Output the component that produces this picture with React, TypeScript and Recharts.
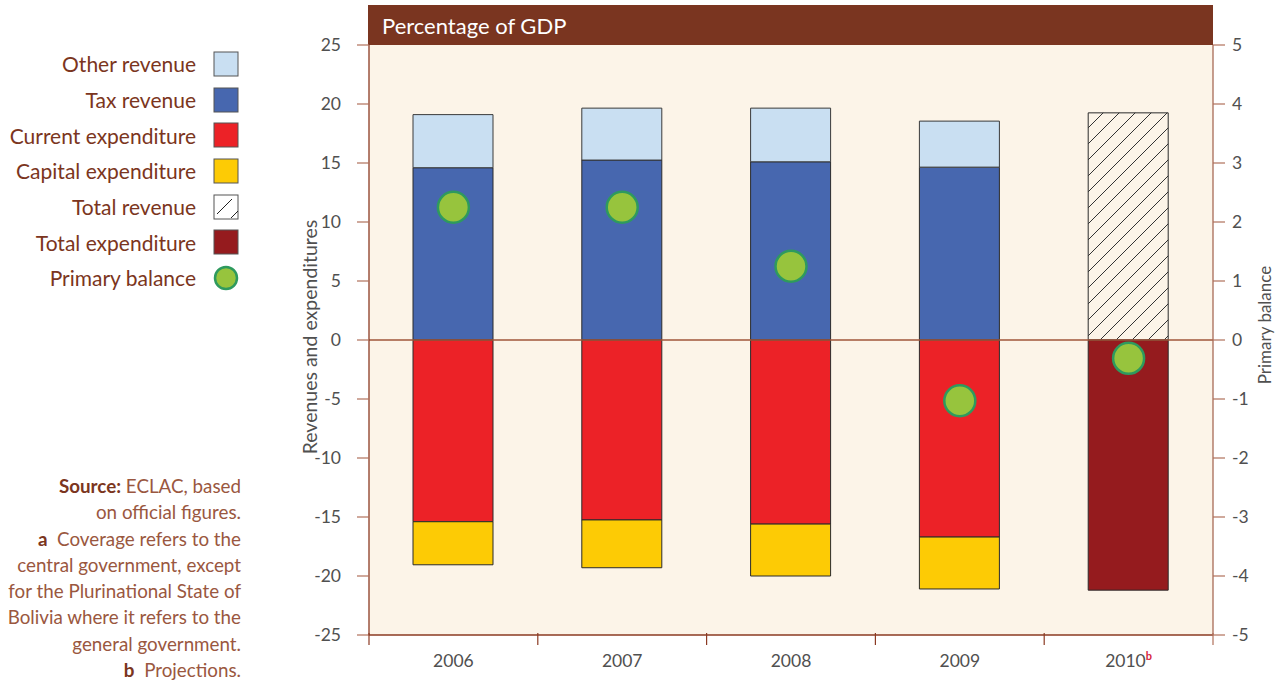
import {
  ComposedChart,
  Bar,
  Scatter,
  XAxis,
  YAxis,
  CartesianGrid,
  ReferenceLine,
} from 'recharts'

const years = ['2006', '2007', '2008', '2009', '2010']
const projected = [false, false, false, false, true]
const taxRevenue = [14.6, 15.25, 15.1, 14.65, null]
const otherRevenue = [4.5, 4.4, 4.55, 3.9, null]
const totalRevenue = [null, null, null, null, 19.25]
const currentExpenditure = [-15.4, -15.25, -15.6, -16.7, null]
const capitalExpenditure = [-3.65, -4.05, -4.4, -4.4, null]
const totalExpenditure = [null, null, null, null, -21.2]
const primaryBalance = [2.25, 2.25, 1.25, -1.03, -0.31]

const leftTicks = [25, 20, 15, 10, 5, 0, -5, -10, -15, -20, -25]
const rightTicks = [5, 4, 3, 2, 1, 0, -1, -2, -3, -4, -5]

const legendItems = [
  { name: 'Other revenue', kind: 'box', color: '#C9DFF2' },
  { name: 'Tax revenue', kind: 'box', color: '#4767AF' },
  { name: 'Current expenditure', kind: 'box', color: '#EC2227' },
  { name: 'Capital expenditure', kind: 'box', color: '#FDCB05' },
  { name: 'Total revenue', kind: 'hatch', color: '#FFFFFF' },
  { name: 'Total expenditure', kind: 'box', color: '#951B1E' },
  { name: 'Primary balance', kind: 'dot', color: '#97C43D' },
]

const data = years.map((year, i) => ({
  year,
  projected: projected[i],
  tax: taxRevenue[i],
  other: otherRevenue[i],
  totalRev: totalRevenue[i],
  current: currentExpenditure[i],
  capital: capitalExpenditure[i],
  totalExp: totalExpenditure[i],
  balance: primaryBalance[i],
}))

const BROWN = '#8B3A22'
const TICK_BROWN = '#B0705A'
const TEXT_BROWN = '#7B3520'
const GRAY = '#505050'
const FONT = 'Lato, "Open Sans", sans-serif'

const PLOT_LEFT = 369
const PLOT_RIGHT = 1213
const BAND = (PLOT_RIGHT - PLOT_LEFT) / years.length

function YearTick(props: any) {
  const { x, y, payload, index } = props
  const row = data[index]
  const left = x - BAND / 2
  const right = x + BAND / 2
  return (
    <g>
      <line x1={left} x2={left} y1={y - 2} y2={y + 10} stroke={BROWN} strokeWidth={1.2} />
      {index === years.length - 1 && (
        <line x1={right} x2={right} y1={y - 2} y2={y + 10} stroke={TICK_BROWN} strokeWidth={1.2} />
      )}
      <text x={x} y={y + 32} textAnchor="middle" fill={GRAY} fontSize={17.5} fontFamily={FONT}>
        {payload.value}
        {row && row.projected && (
          <tspan dy={-7} fontSize={11} fontWeight="bold" fill="#D7263D">
            b
          </tspan>
        )}
      </text>
    </g>
  )
}

function RightAxisLabel(props: any) {
  const vb = props.viewBox || {}
  const cx = vb.x + vb.width - 19
  const cy = vb.y + vb.height / 2 - 15
  return (
    <text
      x={cx}
      y={cy}
      transform={`rotate(-90, ${cx}, ${cy})`}
      textAnchor="middle"
      dominantBaseline="central"
      fill={GRAY}
      fontSize={17}
      fontFamily={FONT}
    >
      Primary balance
    </text>
  )
}

function LeftAxisLabel(props: any) {
  const vb = props.viewBox || {}
  const cx = vb.x + 10
  const cy = vb.y + vb.height / 2 - 3
  return (
    <text
      x={cx}
      y={cy}
      transform={`rotate(-90, ${cx}, ${cy})`}
      textAnchor="middle"
      dominantBaseline="central"
      fill={GRAY}
      fontSize={19.5}
      fontFamily={FONT}
    >
      Revenues and expenditures
    </text>
  )
}

function BalanceDot(props: any) {
  const { cx, cy } = props
  if (cx == null || cy == null) return null
  return <circle cx={cx} cy={cy} r={15.5} fill="#97C43D" stroke="#2E9A5E" strokeWidth={2.5} />
}

function Swatch({ kind, color }: { kind: string; color: string }) {
  if (kind === 'dot') {
    return (
      <svg width={26} height={26}>
        <circle cx={13} cy={13} r={11} fill={color} stroke="#2E9A5E" strokeWidth={2.5} />
      </svg>
    )
  }
  return (
    <svg width={26} height={26}>
      <rect x={1} y={1} width={24} height={24} fill={color} stroke="#555" strokeWidth={1} />
      {kind === 'hatch' && (
        <>
          <line x1={4} y1={20} x2={19} y2={5} stroke="#222" strokeWidth={1} />
          <line x1={18} y1={24} x2={25} y2={17} stroke="#222" strokeWidth={1} />
        </>
      )}
    </svg>
  )
}

export default function App() {
  return (
    <div
      style={{
        position: 'absolute',
        left: 0,
        top: 0,
        width: 1284,
        height: 681,
        background: '#FFFFFF',
        fontFamily: FONT,
        overflow: 'hidden',
      }}
    >
      {/* legend */}
      <div style={{ position: 'absolute', left: 0, top: 46, width: 239 }}>
        {legendItems.map((item) => (
          <div
            key={item.name}
            style={{
              display: 'flex',
              justifyContent: 'flex-end',
              alignItems: 'center',
              height: 35.7,
            }}
          >
            <span style={{ color: TEXT_BROWN, fontSize: 21, marginRight: 17 }}>{item.name}</span>
            <Swatch kind={item.kind} color={item.color} />
          </div>
        ))}
      </div>

      {/* source and notes */}
      <div
        style={{
          position: 'absolute',
          left: 0,
          top: 473,
          width: 241,
          textAlign: 'right',
          color: '#9A5740',
          fontSize: 18.8,
          lineHeight: '26.3px',
          whiteSpace: 'nowrap',
        }}
      >
        <div>
          <b style={{ color: TEXT_BROWN }}>Source:</b> ECLAC, based
        </div>
        <div>on official figures.</div>
        <div>
          <b style={{ color: TEXT_BROWN }}>a</b>&nbsp; Coverage refers to the
        </div>
        <div>central government, except</div>
        <div>for the Plurinational State of</div>
        <div>Bolivia where it refers to the</div>
        <div>general government.</div>
        <div>
          <b style={{ color: TEXT_BROWN }}>b</b>&nbsp; Projections.
        </div>
      </div>

      {/* header band */}
      <div
        style={{
          position: 'absolute',
          left: 368,
          top: 5,
          width: PLOT_RIGHT - 368,
          height: 40,
          background: '#7A3520',
          color: '#FFFFFF',
          fontSize: 22,
          lineHeight: '42px',
          paddingLeft: 14,
          boxSizing: 'border-box',
        }}
      >
        Percentage of GDP
      </div>

      <div style={{ position: 'absolute', left: 0, top: 0 }}>
        <ComposedChart
          width={1284}
          height={681}
          data={data}
          stackOffset="sign"
          margin={{ top: 45, right: 1, bottom: 6, left: 299 }}
          barCategoryGap={0}
        >
          <defs>
            <pattern id="hatch" width={16} height={16} patternUnits="userSpaceOnUse">
              <rect width={16} height={16} fill="#FCF4E8" />
              <path d="M-2,2 l4,-4 M0,16 l16,-16 M14,18 l4,-4" stroke="#333" strokeWidth={1} />
            </pattern>
          </defs>
          <CartesianGrid horizontal={false} vertical={false} fill="#FCF4E8" yAxisId="left" />
          <XAxis
            dataKey="year"
            height={40}
            tick={<YearTick />}
            tickLine={false}
            tickSize={0}
            tickMargin={0}
            axisLine={{ stroke: BROWN, strokeWidth: 1.3 }}
            interval={0}
          />
          <YAxis
            yAxisId="left"
            width={70}
            domain={[-25, 25]}
            ticks={leftTicks}
            interval={0}
            tickSize={12}
            tickMargin={16}
            allowDataOverflow
            axisLine={{ stroke: BROWN, strokeWidth: 1.3 }}
            tickLine={{ stroke: TICK_BROWN, strokeWidth: 1.2 }}
            tick={{ fill: GRAY, fontSize: 17.5, fontFamily: FONT }}
            label={<LeftAxisLabel />}
          />
          <YAxis
            yAxisId="right"
            orientation="right"
            width={70}
            domain={[-5, 5]}
            ticks={rightTicks}
            interval={0}
            tickSize={12}
            tickMargin={7}
            allowDataOverflow
            axisLine={{ stroke: '#A86A56', strokeWidth: 1.3 }}
            tickLine={{ stroke: TICK_BROWN, strokeWidth: 1.2 }}
            tick={{ fill: GRAY, fontSize: 17.5, fontFamily: FONT }}
            label={<RightAxisLabel />}
          />
          <Bar yAxisId="left" dataKey="tax" stackId="a" barSize={80} fill="#4767AF" stroke="#2B2B2B" strokeWidth={1} isAnimationActive={false} />
          <Bar yAxisId="left" dataKey="other" stackId="a" barSize={80} fill="#C9DFF2" stroke="#3A3A3A" strokeWidth={1} isAnimationActive={false} />
          <Bar yAxisId="left" dataKey="totalRev" stackId="a" barSize={80} fill="url(#hatch)" stroke="#2B2B2B" strokeWidth={1} isAnimationActive={false} />
          <Bar yAxisId="left" dataKey="current" stackId="a" barSize={80} fill="#EC2227" stroke="#2B2B2B" strokeWidth={1} isAnimationActive={false} />
          <Bar yAxisId="left" dataKey="capital" stackId="a" barSize={80} fill="#FDCB05" stroke="#2B2B2B" strokeWidth={1} isAnimationActive={false} />
          <Bar yAxisId="left" dataKey="totalExp" stackId="a" barSize={80} fill="#951B1E" stroke="#2B2B2B" strokeWidth={1} isAnimationActive={false} />
          <ReferenceLine yAxisId="left" y={0} stroke="#A0563A" strokeWidth={1.5} />
          <Scatter yAxisId="right" dataKey="balance" shape={<BalanceDot />} isAnimationActive={false} />
        </ComposedChart>
      </div>
    </div>
  )
}
